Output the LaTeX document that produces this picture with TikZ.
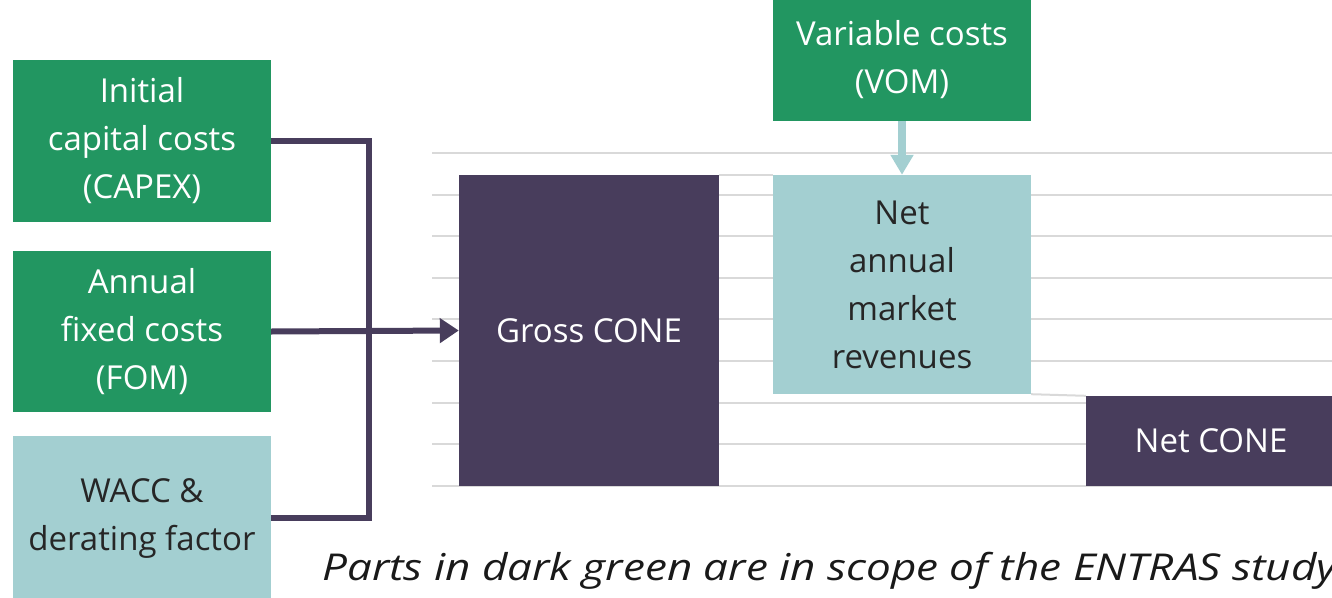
\documentclass[tikz,border=0pt]{standalone}
\usepackage{fontspec}
\setmainfont{Open Sans}
\usetikzlibrary{arrows.meta}
\definecolor{dkgreen}{HTML}{229661}
\definecolor{ltteal}{HTML}{A3CFD1}
\definecolor{dkpurple}{HTML}{483D5C}
\definecolor{gridgray}{HTML}{D9D9D9}
\tikzset{
  box/.style={rectangle, inner sep=0pt, align=center, font={\fontsize{33}{48}\selectfont}},
  greenbox/.style={box, fill=dkgreen, text=white},
  tealbox/.style={box, fill=ltteal, text=black!85},
  purplebox/.style={box, fill=dkpurple, text=white},
  gridline/.style={draw=gridgray, line width=2pt},
  purplearrow/.style={draw=dkpurple, line width=6pt},
  tealarrow/.style={draw=ltteal, line width=8pt}
}
\begin{document}
\begin{tikzpicture}[x=1pt,y=-1pt]
\useasboundingbox (0,0) rectangle (1332,597);
% grid lines
\foreach \k in {0,...,8} {
  \draw[gridline] (432,{153+41.6*\k}) -- (1332,{153+41.6*\k});
}
% boxes
\node[greenbox, minimum width=258pt, minimum height=162pt] (capex) at (142,141) {Initial\\capital costs\\(CAPEX)};
\node[greenbox, minimum width=258pt, minimum height=161pt] (fom) at (142,331.5) {Annual\\fixed costs\\(FOM)};
\node[tealbox, minimum width=258pt, minimum height=164pt] (wacc) at (142,518) {WACC \&\\derating factor};
\node[purplebox, minimum width=260pt, minimum height=311pt] (gross) at (589,330.5) {Gross CONE};
\node[greenbox, minimum width=258pt, minimum height=122pt] (vom) at (902,60) {Variable costs\\(VOM)};
\node[tealbox, minimum width=258pt, minimum height=219pt] (nar) at (902,284.5) {Net\\annual\\market\\revenues};
\node[purplebox, minimum width=250pt, minimum height=90pt] (net) at (1211,441) {Net CONE};
% waterfall connectors
\draw[gridline] (gross.north east) -- (nar.north west);
\draw[gridline] (nar.south east) -- (net.north west);
% bracket
\coordinate (bus) at (369,331.5);
\draw[purplearrow, line join=miter] (capex.east) -| (bus) |- (wacc.east);
\draw[purplearrow, -{Triangle[length=19pt,width=24pt]}] (fom.east) -- (gross.west);
\draw[tealarrow, -{Triangle[length=20pt,width=22pt]}] (vom.south) -- (nar.north);
% caption
\node[anchor=base west, inner sep=0pt, xscale=1.19, font={\fontsize{37}{42}\selectfont\itshape}, text=black!90] (cap) at (322,580) {Parts in dark green are in scope of the ENTRAS study};
\end{tikzpicture}
\end{document}
